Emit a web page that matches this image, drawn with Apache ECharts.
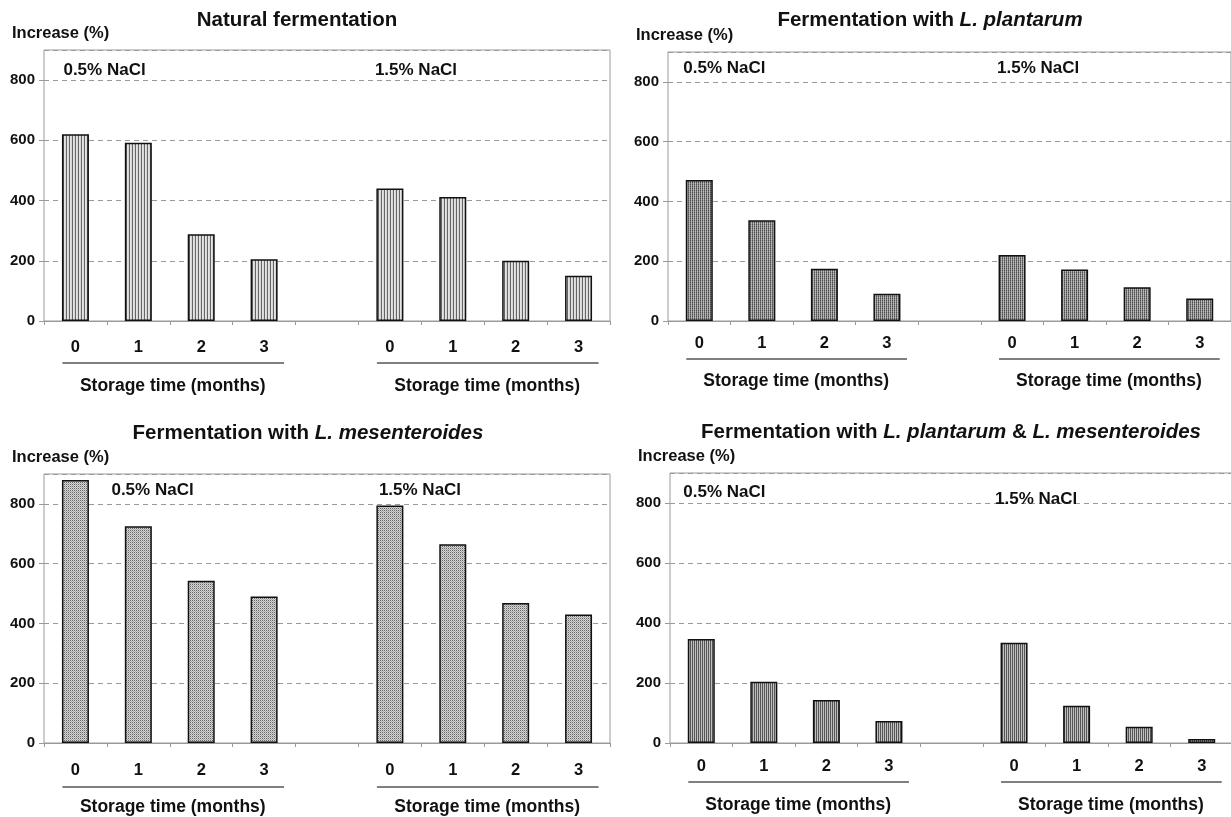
<!DOCTYPE html>
<html><head><meta charset="utf-8">
<script src="https://cdn.jsdelivr.net/npm/echarts@6/dist/echarts.min.js"></script>
<style>html,body{margin:0;padding:0;background:#fff}#c{width:1231px;height:817px}</style>
</head><body><div id="c"></div>
<script>
// ---------------- data ----------------
const MONTHS = ['0', '1', '2', '3'];
const SALT = ['0.5% NaCl', '1.5% NaCl'];
const Y_LABEL = 'Increase (%)';
const X_LABEL = 'Storage time (months)';
// title segments: [text, italic?]
const TITLE_NATURAL = [['Natural fermentation', 0]];
const TITLE_PLANT = [['Fermentation with ', 0], ['L. plantarum', 1]];
const TITLE_MESEN = [['Fermentation with ', 0], ['L. mesenteroides', 1]];
const TITLE_MIX = [['Fermentation with ', 0], ['L. plantarum', 1], [' & ', 0], ['L. mesenteroides', 1]];

const NATURAL_LOW = [620, 592, 288, 205];
const NATURAL_HIGH = [440, 412, 200, 150];
const PLANT_LOW = [472, 337, 175, 91];
const PLANT_HIGH = [221, 172, 113, 75];
const MESEN_LOW = [880, 725, 543, 490];
const MESEN_HIGH = [795, 665, 468, 430];
const MIX_LOW = [347, 204, 143, 73];
const MIX_HIGH = [334, 124, 54, 13];

const Y_MIN = 0, Y_MAX = 900, Y_STEP = 200;

// ---------------- layout / style ----------------
const FONT = '"Liberation Sans", Arial, Helvetica, sans-serif';
const PANELS = [
  { title: TITLE_NATURAL, low: NATURAL_LOW, high: NATURAL_HIGH,
    grid: {left: 44, top: 50, width: 566, height: 271}, titleX: 297, titleY: 20,
    labMargin: 18, lineDy: 42, textDy: 65, salt: [[-12, 20], [-15, 20]], pat: 'p1' },
  { title: TITLE_PLANT, low: PLANT_LOW, high: PLANT_HIGH,
    grid: {left: 668, top: 52, width: 563, height: 269}, titleX: 930, titleY: 20,
    labMargin: 14, lineDy: 38, textDy: 60, salt: [[-16, 16], [-15, 16]], pat: 'p2' },
  { title: TITLE_MESEN, low: MESEN_LOW, high: MESEN_HIGH,
    grid: {left: 44, top: 474, width: 566, height: 269}, titleX: 308, titleY: 433,
    labMargin: 19, lineDy: 44, textDy: 64, salt: [[36, 16], [-11, 16]], pat: 'p3' },
  { title: TITLE_MIX, low: MIX_LOW, high: MIX_HIGH,
    grid: {left: 670, top: 473, width: 563, height: 270}, titleX: 951, titleY: 432,
    labMargin: 15, lineDy: 39, textDy: 62, salt: [[-18, 19], [-19, 26]], pat: 'p4' }
];

function makePattern(rows) {
  const h = rows.length, w = rows[0].length;
  const c = document.createElement('canvas');
  c.width = w; c.height = h;
  const ctx = c.getContext('2d');
  for (let y = 0; y < h; y++) for (let x = 0; x < w; x++) {
    ctx.fillStyle = rows[y][x]; ctx.fillRect(x, y, 1, 1);
  }
  return { image: c, repeat: 'repeat' };
}
const PATTERNS = {
  p1: makePattern([['#666', '#e4e4e4', '#d6d6d6']]),
  p2: makePattern([['#4e4e4e', '#a8a8a8'], ['#727272', '#bcbcbc']]),
  p3: makePattern([['#666', '#d4d4d4'], ['#d4d4d4', '#aaaaaa']]),
  p4: makePattern([['#555', '#c0c0c0']])
};

const GAP = 'gap|';
const CATS = [...MONTHS.map(m => SALT[0] + '|' + m), GAP, ...MONTHS.map(m => SALT[1] + '|' + m)];

const chart = echarts.init(document.getElementById('c'), null, {renderer: 'canvas'});

const option = {
  animation: false,
  backgroundColor: '#fff',
  grid: PANELS.map(p => Object.assign({show: true, borderColor: '#9a9a9a', borderWidth: 1,
    backgroundColor: 'transparent', containLabel: false, outerBoundsMode: 'none'}, p.grid)),
  xAxis: PANELS.map((p, i) => ({
    type: 'category', gridIndex: i, data: CATS,
    axisLine: {show: true, lineStyle: {color: '#9a9a9a', width: 1}},
    axisTick: {show: true, length: 4, interval: 0, lineStyle: {color: '#9a9a9a'}},
    axisLabel: {interval: 0, margin: p.labMargin, fontSize: 16.5, fontWeight: 'bold',
      fontFamily: FONT, color: '#111', formatter: v => (v.split('|')[1] || '')},
    splitLine: {show: false}
  })),
  yAxis: PANELS.map((p, i) => ({
    type: 'value', gridIndex: i, min: Y_MIN, max: Y_MAX, interval: Y_STEP,
    axisLine: {show: false},
    axisTick: {show: true, length: 5, lineStyle: {color: '#9a9a9a'}},
    axisLabel: {showMaxLabel: false, margin: 9, fontSize: 15, fontWeight: 'bold',
      fontFamily: FONT, color: '#111'},
    splitLine: {show: true, lineStyle: {color: '#9a9a9a', width: 1, type: [5, 4]}}
  })),
  series: PANELS.map((p, i) => ({
    type: 'bar', xAxisIndex: i, yAxisIndex: i,
    data: [...p.low, null, ...p.high],
    barWidth: 27, silent: true,
    itemStyle: {color: PATTERNS[p.pat], borderColor: '#111', borderWidth: 1.5}
  }))
};
chart.setOption(option);

// ---------------- annotations (positioned through the axes) ----------------
function text(x, y, str, size, align, extra) {
  return Object.assign({type: 'text', x: x, y: y, silent: true, z: 100,
    style: {text: str, fill: '#111', fontSize: size, fontWeight: 'bold', fontFamily: FONT,
      align: align, verticalAlign: 'middle'}}, extra || {});
}
const graphics = [];
PANELS.forEach((p, i) => {
  const cx = name => chart.convertToPixel({xAxisIndex: i}, name);
  const y0 = chart.convertToPixel({yAxisIndex: i}, 0);
  // title
  const rich = {
    n: {fontSize: 20.5, fontWeight: 'bold', fontFamily: FONT, fill: '#111'},
    i: {fontSize: 20.5, fontWeight: 'bold', fontStyle: 'italic', fontFamily: FONT, fill: '#111'}
  };
  const tstr = p.title.map(s => '{' + (s[1] ? 'i' : 'n') + '|' + s[0] + '}').join('');
  graphics.push({type: 'text', x: p.titleX, y: p.titleY, silent: true, z: 100,
    style: {text: tstr, rich: rich, align: 'center', verticalAlign: 'middle', fill: '#111',
      fontSize: 20.5, fontWeight: 'bold', fontFamily: FONT}});
  // y axis name
  graphics.push(text(p.grid.left - 32, p.grid.top - 17, Y_LABEL, 16.5, 'left'));
  SALT.forEach((s, g) => {
    const first = cx(s + '|' + MONTHS[0]);
    const last = cx(s + '|' + MONTHS[MONTHS.length - 1]);
    // salt label
    graphics.push(text(first + p.salt[g][0], p.grid.top + p.salt[g][1], s, 17, 'left'));
    // group underline
    graphics.push({type: 'line', silent: true, z: 100,
      shape: {x1: first - 13, y1: y0 + p.lineDy, x2: last + 20, y2: y0 + p.lineDy},
      style: {stroke: '#555', lineWidth: 1.5}});
    // storage time label
    graphics.push(text((first + last) / 2 + 3, y0 + p.textDy, X_LABEL, 17.5, 'center'));
  });
});
chart.setOption({graphic: graphics});
</script>
</body></html>
